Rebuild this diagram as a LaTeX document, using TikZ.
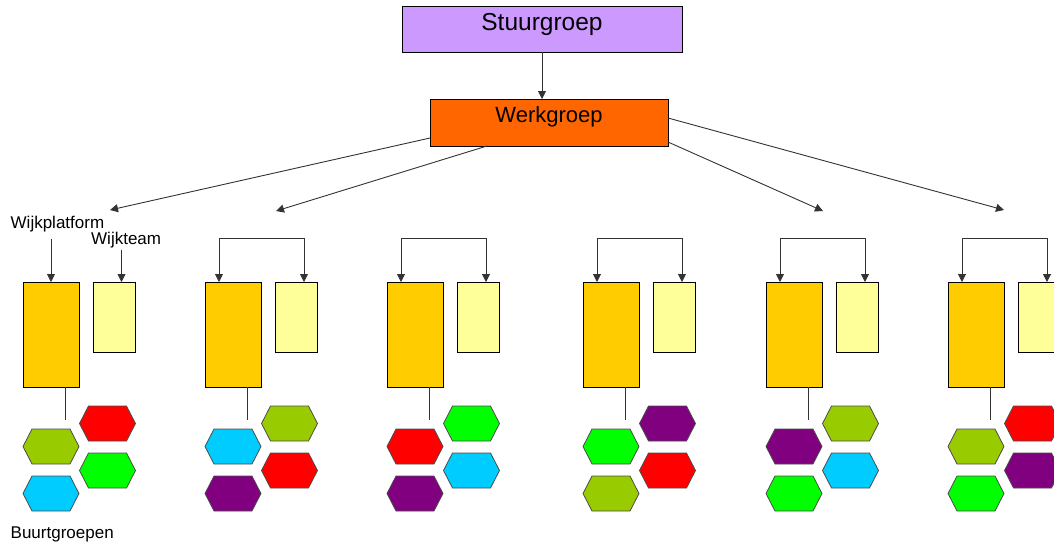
\documentclass[tikz,border=0pt]{standalone}
\usepackage{fontspec}
\setmainfont{Liberation Sans}
\usetikzlibrary{arrows.meta}
\definecolor{cStuur}{HTML}{CC99FF}
\definecolor{cWerk}{HTML}{FF6600}
\definecolor{cOrange}{HTML}{FFCC00}
\definecolor{cYellow}{HTML}{FFFF99}
\definecolor{hRed}{HTML}{FF0000}
\definecolor{hGreen}{HTML}{00FF00}
\definecolor{hCyan}{HTML}{00CCFF}
\definecolor{hPurple}{HTML}{800080}
\definecolor{hOlive}{HTML}{99CC00}
\definecolor{lineGray}{HTML}{333333}
\tikzset{
  box/.style={draw=black, line width=0.8pt, inner sep=0pt, outer sep=0pt},
  arr/.style={draw=lineGray, line width=0.9pt, -{Triangle[length=8pt,width=8pt]}},
  ln/.style={draw=lineGray, line width=0.9pt},
  lbl/.style={font=\fontsize{17}{17}\selectfont, inner sep=0pt, anchor=base west},
  pics/hexa/.style={code={
    \draw[draw=black!70, line width=0.8pt, fill=#1]
      (-28,0) -- (-19,-17.5) -- (19,-17.5) -- (28,0) -- (19,17.5) -- (-19,17.5) -- cycle;}}
}
\begin{document}
\begin{tikzpicture}[x=1pt,y=-1pt]
\useasboundingbox (0,0) rectangle (1054,542);
\clip (0,0) rectangle (1054,542);
% top boxes
\node[box, fill=cStuur, minimum width=280pt, text height=24pt, text depth=22pt,
      font=\fontsize{24.5}{24.5}\selectfont] (stuur) at (542,29) {Stuurgroep};
\node[box, fill=cWerk, minimum width=238pt, text height=23pt, text depth=24pt,
      font=\fontsize{22}{22}\selectfont] (werk) at (549,122.5) {Werkgroep};
\draw[arr] (stuur.south) -- (stuur.south |- werk.north);
% arrows from Werkgroep
\coordinate (t1) at (110,210);
\coordinate (t2) at (276,211);
\coordinate (t3) at (823,211);
\coordinate (t4) at (1004,210);
\draw[arr] ([yshift=-15.5pt]werk.west) -- (t1);
\draw[arr] ([xshift=-62pt]werk.south) -- (t2);
\draw[arr] ([yshift=-19.5pt]werk.east) -- (t3);
\draw[arr] ([yshift=4.5pt]werk.east) -- (t4);
% groups
\foreach \ox/\i/\a/\b/\c/\d in {
  0/1/hOlive/hRed/hGreen/hCyan,
  182/2/hCyan/hOlive/hRed/hPurple,
  364/3/hRed/hGreen/hCyan/hPurple,
  560/4/hGreen/hPurple/hRed/hOlive,
  743/5/hPurple/hOlive/hCyan/hGreen,
  925/6/hOlive/hRed/hPurple/hGreen}{
  \node[box, fill=cOrange, minimum width=56pt, minimum height=105pt] (o\i) at (\ox+51,334.5) {};
  \node[box, fill=cYellow, minimum width=42pt, minimum height=70pt] (y\i) at (\ox+114,317) {};
  \draw[ln] ([xshift=14pt]o\i.south) -- ++(0,33);
  \pic at (\ox+51,446.5) {hexa=\a};
  \pic at (\ox+107.5,423.5) {hexa=\b};
  \pic at (\ox+107.5,470.5) {hexa=\c};
  \pic at (\ox+51,493.5) {hexa=\d};
}
% brackets for groups 2..6
\foreach \ox/\i in {182/2,364/3,560/4,743/5,925/6}{
  \coordinate (b\i) at (\ox+80,238.5);
  \draw[arr] (b\i) -| ([xshift=-14pt]o\i.north);
  \draw[arr] (b\i) -| ([xshift=8pt]y\i.north);
}
% group 1 labels
\node[lbl] (wp) at (10.5,228) {Wijkplatform};
\node[lbl] (wt) at (91,244) {Wijkteam};
\coordinate (wpa) at (51,239);
\coordinate (wta) at (121.5,250);
\draw[arr] (wpa) -- (o1.north);
\draw[arr] (wta) -- ([xshift=7.5pt]y1.north);
\node[lbl] (bg) at (10.5,538) {Buurtgroepen};
\end{tikzpicture}
\end{document}
